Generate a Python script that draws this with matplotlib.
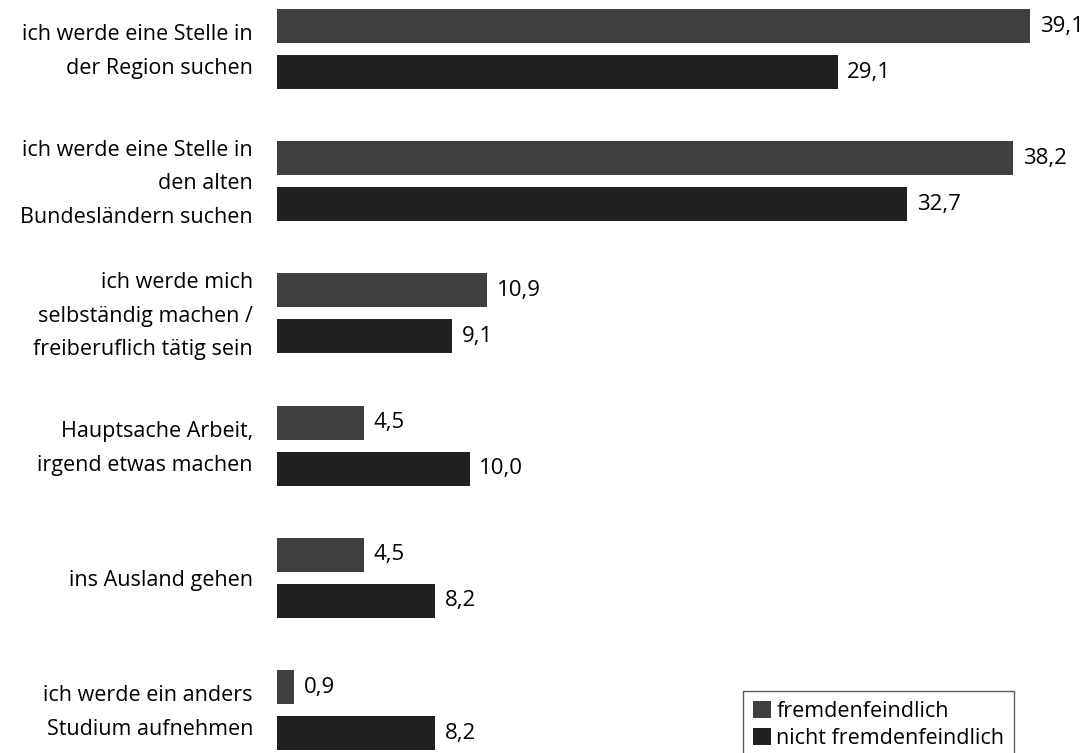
import matplotlib.pyplot as plt
import numpy as np
from matplotlib.patches import Patch

plt.rcParams['font.family'] = ['Open Sans', 'DejaVu Sans']

categories = ['ich werde eine Stelle in\nder Region suchen',
              'ich werde eine Stelle in\nden alten\nBundesländern suchen',
              'ich werde mich\nselbständig machen /\nfreiberuflich tätig sein',
              'Hauptsache Arbeit,\nirgend etwas machen',
              'ins Ausland gehen',
              'ich werde ein anders\nStudium aufnehmen']
fremdenfeindlich = [39.1, 38.2, 10.9, 4.5, 4.5, 0.9]
nicht_fremdenfeindlich = [29.1, 32.7, 9.1, 10.0, 8.2, 8.2]
series_names = ['fremdenfeindlich', 'nicht fremdenfeindlich']
colors = ['#3f3f3f', '#202020']

fig = plt.figure(figsize=(10.92, 7.53), dpi=100)
ax = fig.add_axes([277 / 1092, 0, 1 - 277 / 1092, 1])

y = np.arange(len(categories))
h = 0.257
off = 0.174
ax.barh(y - off, fremdenfeindlich, height=h, color=colors[0])
ax.barh(y + off, nicht_fremdenfeindlich, height=h, color=colors[1])

for yi, v in zip(y - off, fremdenfeindlich):
    ax.text(v + 0.5, yi, f'{v:.1f}'.replace('.', ','), va='center', ha='left', fontsize=16)
for yi, v in zip(y + off, nicht_fremdenfeindlich):
    ax.text(v + 0.5, yi, f'{v:.1f}'.replace('.', ','), va='center', ha='left', fontsize=16)

for yi, lab in zip(y, categories):
    ax.text(-1.25, yi + 0.02, lab, ha='right', va='center', fontsize=15.5, linespacing=1.8)

ax.set_xlim(0, 42.3)
ax.set_ylim(5.325, -0.371)
ax.axis('off')

handles = [Patch(facecolor=c, edgecolor='none') for c in colors]
leg = fig.legend(handles, series_names, loc='upper left',
                 bbox_to_anchor=(743 / 1092, 1 - 691 / 753), fontsize=15.5,
                 frameon=True, fancybox=False, edgecolor='#333333',
                 handlelength=0.85, handleheight=0.85, handletextpad=0.25,
                 borderpad=0.45, labelspacing=0.3, borderaxespad=0)
leg.get_frame().set_linewidth(1.0)

fig.savefig('out.png', dpi=100)
